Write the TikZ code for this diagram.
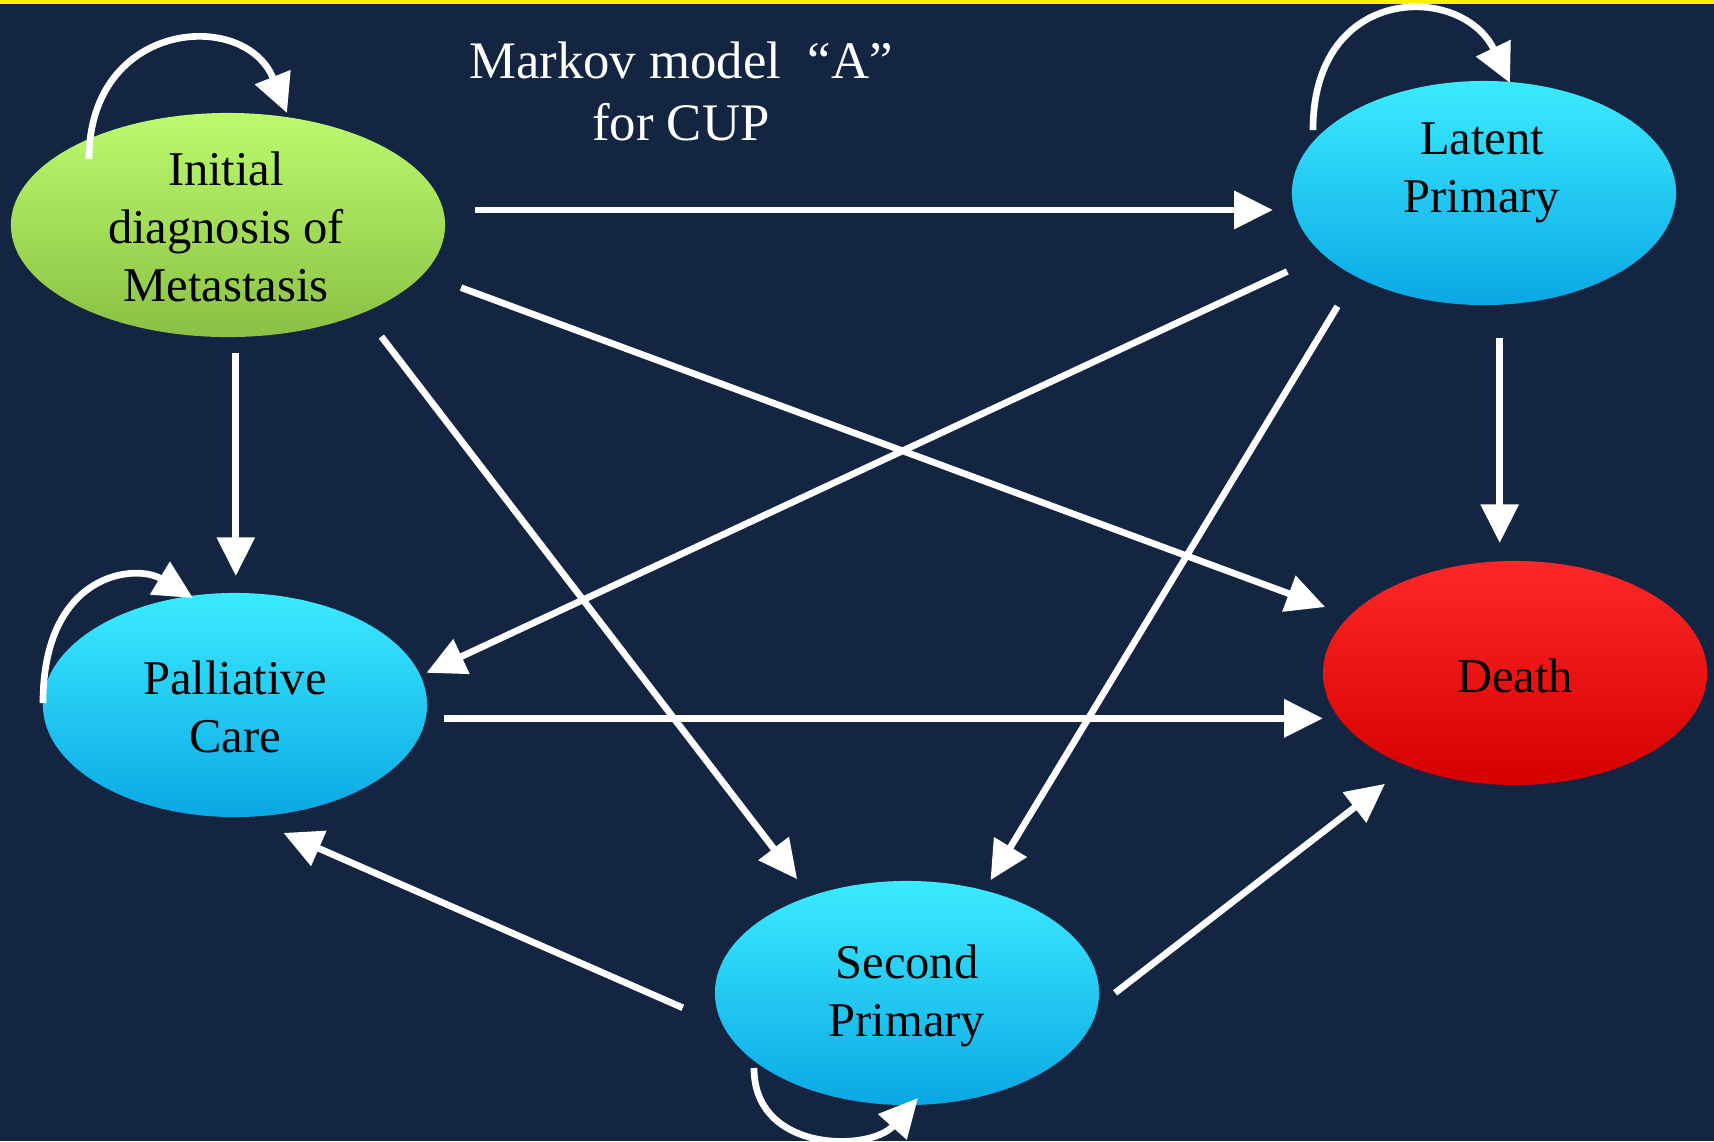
\documentclass[tikz,border=0pt]{standalone}
\usepackage{fontspec}
\setmainfont{Liberation Serif}
\usepackage{tikz}
\usetikzlibrary{calc}
\usetikzlibrary{arrows.meta}
\usetikzlibrary{shapes.geometric}

\definecolor{navy}{RGB}{19,37,64}
\definecolor{cyanhi}{RGB}{60,235,255}
\definecolor{cyanmid}{RGB}{8,192,248}
\definecolor{cyanlo}{RGB}{10,168,228}
\definecolor{greenhi}{RGB}{188,250,110}
\definecolor{greenmid}{RGB}{160,218,85}
\definecolor{greenlo}{RGB}{138,192,68}
\definecolor{redhi}{RGB}{255,40,40}
\definecolor{redmid}{RGB}{250,0,0}
\definecolor{redlo}{RGB}{212,0,0}

\begin{document}
\begin{tikzpicture}[x=0.01cm,y=-0.01cm]
\tikzstyle{state}=[ellipse,minimum width=3.84cm,minimum height=2.24cm,inner sep=0pt,outer sep=0pt]
\tikzstyle{bluestate}=[state,top color=cyanhi,middle color=cyanmid,bottom color=cyanlo]
\tikzstyle{txt}=[align=center,text=black,font=\fontsize{13.8}{16.5}\selectfont]
\tikzstyle{trans}=[draw=white,line width=1.9pt,-{Triangle[length=11pt,width=10.5pt]}]

\useasboundingbox (0,0) rectangle (1714,1141);
\fill[navy] (0,0) rectangle (1714,1141);
\fill[yellow] (0,0) rectangle (1714,4);

\node[white,align=center,font=\fontsize{15}{17.6}\selectfont] (title) at (681,91) {Markov model\ \ “A”\\for CUP};

% states
\node[state,minimum width=4.34cm,top color=greenhi,middle color=greenmid,bottom color=greenlo] (init) at (228,225) {};
\node[bluestate] (latent) at (1484,193) {};
\node[bluestate] (pall) at (235,705) {};
\node[bluestate] (second) at (907,993) {};
\node[state,top color=redhi,middle color=redmid,bottom color=redlo] (death) at (1515,673) {};

\node[txt] (init-t) at (226,227) {Initial\\diagnosis of\\Metastasis};
\node[txt] (latent-t) at (1482,173) {Latent\\Primary};
\node[txt] (pall-t) at (235,707) {Palliative\\Care};
\node[txt] (second-t) at (907,996) {Second\\Primary};
\node[txt] (death-t) at (1515,676) {Death};

% transitions
\draw[trans,shorten <=0.32cm,shorten >=0.19cm] (init.4.5) -- (init.4.5 -| latent.west);
\draw[trans,shorten <=0.40cm,shorten >=0.26cm] (init.-14.8) -- (death.161.8);
\draw[trans,shorten <=0.16cm,shorten >=0.17cm] (init.-86.4) -- (init.-86.4 |- pall.north);
\draw[trans,shorten <=0.30cm,shorten >=0.215cm] (init.-33.6) -- (second.135.9);
\draw[trans,shorten <=0.40cm,shorten >=0.067cm] (latent.201.9) -- (pall.9.3);
\draw[trans,shorten <=0.35cm,shorten >=0.12cm] (latent.213.3) -- (second.53.6);
\draw[trans,shorten <=0.33cm,shorten >=0.18cm] (latent.-82.3) -- (latent.-82.3 |- death.north);
\draw[trans,shorten <=0.18cm] (pall.-4.8) -- (pall.-4.8 -| death.west);
\draw[trans,shorten <=0.44cm,shorten >=0.40cm] (second.190.1) -- (pall.-84.9);
\draw[trans,shorten <=0.22cm,shorten >=0.29cm] (second.-4) -- (death.221.3);

% self loops
\draw[trans] ([shift={(-139,-66)}]init.center) .. controls ([shift={(-139,-205)}]init.center) and ([shift={(17,-217)}]init.center) .. ([shift={(59,-112)}]init.center);
\draw[trans] ([shift={(-171,-63)}]latent.center) .. controls ([shift={(-171,-210)}]latent.center) and ([shift={(-22,-210)}]latent.center) .. ([shift={(26,-110)}]latent.center);
\draw[trans] ([shift={(-192,-2)}]pall.center) .. controls ([shift={(-192,-132)}]pall.center) and ([shift={(-100,-142)}]pall.center) .. ([shift={(-42,-107)}]pall.center);
\draw[trans] ([shift={(-153,75)}]second.center) .. controls ([shift={(-153,160)}]second.center) and ([shift={(-37,159)}]second.center) .. ([shift={(11,105)}]second.center);
\end{tikzpicture}
\end{document}
